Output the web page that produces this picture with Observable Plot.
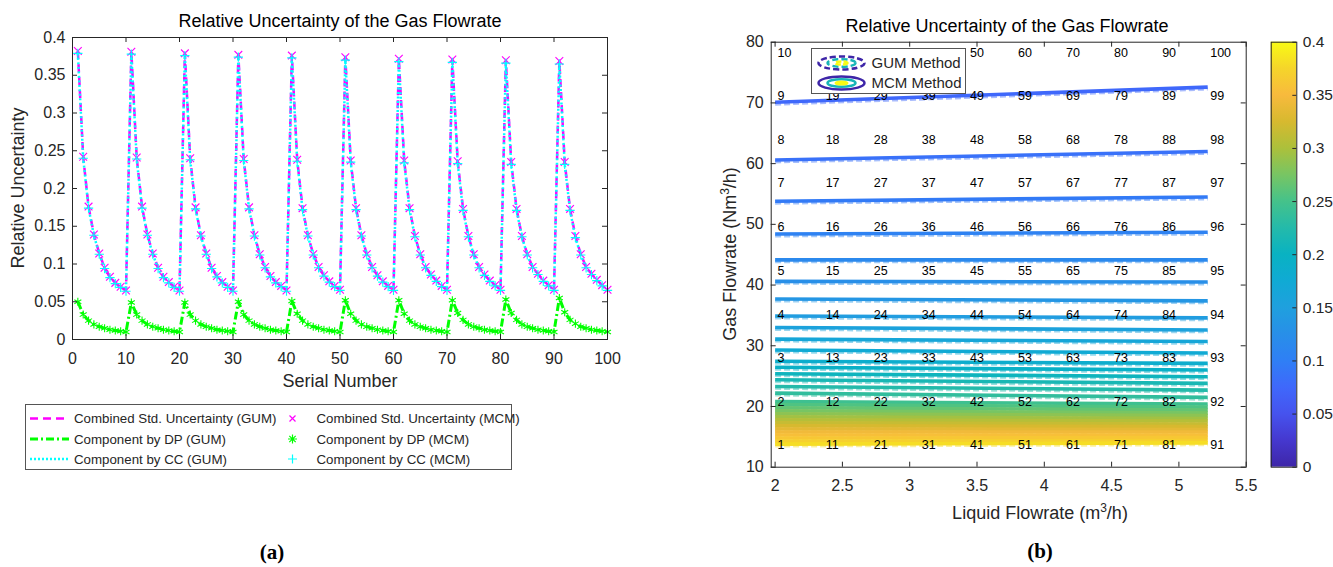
<!DOCTYPE html>
<html><head><meta charset="utf-8">
<script src="https://cdn.jsdelivr.net/npm/d3@7"></script>
<script src="https://cdn.jsdelivr.net/npm/@observablehq/plot@0.6"></script>
<style>
body{margin:0;background:#fff;width:1333px;height:567px;position:relative;overflow:hidden;font-family:"Liberation Sans",Arial,sans-serif;color:#000}
.abs{position:absolute}
.t{position:absolute;transform:translate(-50%,-50%);white-space:nowrap;font-size:18px;color:#262626}
.ttl{color:#000}
.rot{transform:translate(-50%,-50%) rotate(-90deg)}
.cap{font-family:"Liberation Serif","Times New Roman",serif;font-weight:bold;font-size:21px;color:#000}
sup{font-size:12px;vertical-align:7px;line-height:0}
</style></head><body>
<div id="chartA" class="abs" style="left:0;top:0"></div>
<div id="chartB" class="abs" style="left:700px;top:0"></div>
<div id="chartC" class="abs" style="left:1250px;top:0"></div>

<div class="t ttl" style="left:340px;top:21px">Relative Uncertainty of the Gas Flowrate</div>
<div class="t rot" style="left:18px;top:188px">Relative Uncertainty</div>
<div class="t" style="left:340px;top:381px">Serial Number</div>
<div class="t cap" style="left:272px;top:552px">(a)</div>

<div class="t ttl" style="left:1007px;top:26px">Relative Uncertainty of the Gas Flowrate</div>
<div class="t rot" style="left:730px;top:254px">Gas Flowrate (Nm<sup>3</sup>/h)</div>
<div class="t" style="left:1040px;top:513px">Liquid Flowrate (m<sup>3</sup>/h)</div>
<div class="t cap" style="left:1040px;top:551px">(b)</div>

<svg class="abs" style="left:25px;top:404px" width="500" height="67" font-family="Liberation Sans, Arial, sans-serif" font-size="13.3">
  <rect x="0.5" y="0.5" width="486" height="65" fill="#fff" stroke="#555"/>
  <line x1="5" x2="44" y1="14.5" y2="14.5" stroke="#ff00ff" stroke-width="2.5" stroke-dasharray="8,5"/>
  <line x1="5" x2="44" y1="35" y2="35" stroke="#00ff00" stroke-width="3" stroke-dasharray="8,3,2,3"/>
  <line x1="5" x2="44" y1="55" y2="55" stroke="#00ffff" stroke-width="2.5" stroke-dasharray="2,2"/>
  <text x="49" y="19" fill="#262626">Combined Std. Uncertainty (GUM)</text>
  <text x="49" y="39.5" fill="#262626">Component by DP (GUM)</text>
  <text x="49" y="59.5" fill="#262626">Component by CC (GUM)</text>
  <path d="M264.5,11.5l6,6M270.5,11.5l-6,6" stroke="#ff00ff" stroke-width="1.2"/>
  <path d="M267.5,30.5v9M263,35h9M264.3,31.8l6.4,6.4M270.7,31.8l-6.4,6.4" stroke="#00ff00" stroke-width="1.2"/>
  <path d="M267.5,50.5v9M263,55h9" stroke="#00ffff" stroke-width="1.2"/>
  <text x="291.5" y="19" fill="#262626">Combined Std. Uncertainty (MCM)</text>
  <text x="291.5" y="39.5" fill="#262626">Component by DP (MCM)</text>
  <text x="291.5" y="59.5" fill="#262626">Component by CC (MCM)</text>
</svg>

<svg class="abs" style="left:811px;top:48px" width="160" height="47" font-family="Liberation Sans, Arial, sans-serif" font-size="15">
  <rect x="0.5" y="0.5" width="154" height="45" fill="#fff" stroke="#555"/>
  <ellipse cx="30.5" cy="15" rx="23" ry="6.5" fill="none" stroke="#3e26a8" stroke-width="2.5" stroke-dasharray="6,3"/>
  <ellipse cx="30.5" cy="15" rx="14" ry="3.8" fill="none" stroke="#17b5b8" stroke-width="2.5" stroke-dasharray="6,3"/>
  <ellipse cx="30.5" cy="15" rx="6" ry="1.6" fill="none" stroke="#f9fb14" stroke-width="2.5" stroke-dasharray="5,2"/>
  <ellipse cx="30.5" cy="35" rx="23" ry="6.5" fill="none" stroke="#3e26a8" stroke-width="2.5"/>
  <ellipse cx="30.5" cy="35" rx="14" ry="3.8" fill="none" stroke="#17b5b8" stroke-width="2.5"/>
  <ellipse cx="30.5" cy="35" rx="6" ry="1.6" fill="#f9fb14" stroke="#f9fb14" stroke-width="2"/>
  <text x="60.5" y="20" fill="#262626">GUM Method</text>
  <text x="60.5" y="40" fill="#262626">MCM Method</text>
</svg>

<script>
// ---------- Chart (a): relative uncertainty by serial number ----------
const combinedGUM = [
  0.382,0.242,0.176,0.139,0.114,0.095,0.083,0.075,0.070,0.065,
  0.381,0.241,0.176,0.139,0.114,0.095,0.083,0.076,0.070,0.065,
  0.379,0.240,0.175,0.138,0.114,0.095,0.084,0.076,0.070,0.065,
  0.377,0.239,0.175,0.138,0.113,0.096,0.084,0.076,0.071,0.065,
  0.376,0.238,0.174,0.138,0.113,0.096,0.085,0.077,0.071,0.066,
  0.374,0.237,0.174,0.138,0.113,0.096,0.085,0.077,0.071,0.066,
  0.372,0.237,0.174,0.137,0.113,0.096,0.086,0.078,0.071,0.066,
  0.371,0.236,0.173,0.137,0.113,0.096,0.086,0.078,0.072,0.066,
  0.370,0.235,0.173,0.137,0.113,0.096,0.087,0.078,0.072,0.066,
  0.369,0.235,0.173,0.137,0.113,0.096,0.087,0.079,0.072,0.066
];
const dpGUM = [
  0.050,0.033,0.025,0.020,0.017,0.015,0.013,0.012,0.011,0.010,
  0.049,0.033,0.025,0.020,0.017,0.015,0.013,0.012,0.011,0.010,
  0.049,0.033,0.025,0.020,0.017,0.015,0.013,0.012,0.011,0.010,
  0.050,0.033,0.025,0.020,0.017,0.015,0.013,0.012,0.011,0.010,
  0.051,0.034,0.025,0.020,0.017,0.015,0.013,0.012,0.011,0.010,
  0.052,0.034,0.025,0.020,0.017,0.015,0.013,0.012,0.011,0.010,
  0.052,0.034,0.025,0.020,0.017,0.015,0.013,0.012,0.011,0.010,
  0.052,0.035,0.026,0.020,0.017,0.015,0.013,0.012,0.011,0.010,
  0.053,0.035,0.026,0.020,0.017,0.015,0.013,0.012,0.011,0.010,
  0.055,0.036,0.026,0.021,0.017,0.015,0.013,0.012,0.011,0.010
];
const ccGUM = [
  0.379,0.240,0.174,0.138,0.113,0.094,0.082,0.074,0.069,0.064,
  0.378,0.239,0.174,0.138,0.113,0.094,0.082,0.075,0.069,0.064,
  0.376,0.238,0.173,0.137,0.113,0.094,0.083,0.075,0.069,0.064,
  0.374,0.237,0.173,0.137,0.112,0.095,0.083,0.075,0.070,0.064,
  0.373,0.236,0.172,0.137,0.112,0.095,0.084,0.076,0.070,0.065,
  0.370,0.235,0.172,0.137,0.112,0.095,0.084,0.076,0.070,0.065,
  0.368,0.234,0.172,0.136,0.112,0.095,0.085,0.077,0.070,0.065,
  0.367,0.233,0.171,0.136,0.112,0.095,0.085,0.077,0.071,0.065,
  0.366,0.232,0.171,0.136,0.112,0.095,0.086,0.077,0.071,0.065,
  0.365,0.232,0.171,0.135,0.112,0.095,0.086,0.078,0.071,0.065
];
// MCM results coincide with GUM results at this scale
const combinedMCM = combinedGUM;
const dpMCM = dpGUM;
const ccMCM = ccGUM;
const xTicksA = [0,10,20,30,40,50,60,70,80,90,100];
const yTicksA = [0,0.05,0.1,0.15,0.2,0.25,0.3,0.35,0.4];

// ---------- Chart (b): contour of relative uncertainty ----------
const liquidFlow = [2.0,2.357,2.714,3.071,3.429,3.786,4.143,4.5,4.857,5.214];
const gasFlow = [13.6,20.8,27.95,35.1,42.3,49.5,56.8,63.9,71.1,78.25];
const contourLevels = [0.075,0.085,0.095,0.105,0.115,0.125,0.135,0.145,0.155,0.165,0.175,0.185,0.195,0.205,0.215,0.225,0.235,
  0.245,0.255,0.265,0.275,0.285,0.295,0.305,0.315,0.325,0.335,0.345,0.355,0.362,0.370,0.380];
const contourYStart = [70.1,60.6,53.8,48.4,44.15,40.6,37.7,34.9,33.0,31.1,29.3,27.45,26.45,25.4,24.4,23.3,22.2,
  20.8,20.3,19.8,19.3,18.8,18.3,17.8,17.3,16.8,16.3,15.8,15.3,14.8,14.3,13.8];
const contourYEnd = [72.6,62.0,54.5,48.7,44.15,40.5,37.4,34.6,32.6,30.7,28.8,27.1,26.0,24.9,23.8,22.7,21.5,
  20.4,19.9,19.4,18.9,18.5,18.0,17.6,17.1,16.7,16.2,15.8,15.3,14.9,14.4,14.0];
const xTicksB = [2,2.5,3,3.5,4,4.5,5,5.5];
const yTicksB = [10,20,30,40,50,60,70,80];
const cbTicks = [0,0.05,0.1,0.15,0.2,0.25,0.3,0.35,0.4];
const parula = ["#3e26a8","#4538cf","#4653ee","#3f68fb","#2f7ff5","#288fe8","#1fa0de","#10aad4","#09b2c2",
  "#24baaa","#45c28a","#78c563","#acc03b","#d7b92f","#f8ba3d","#f5d52a","#f9fb14"];
const parulaInterp = d3.piecewise(d3.interpolateRgb, parula);

const font = "Liberation Sans, Arial, sans-serif";
const axisStyle = {fontFamily: font, fontSize: "16px", color: "#262626", background: "transparent", overflow: "visible"};

// ---- Plot (a)
{
  const W = 640, H = 400, mL = 72, mR = 33, mT = 37, mB = 61;
  const pw = W - mL - mR, ph = H - mT - mB;
  const rows = combinedGUM.map((v, i) => ({
    s: i + 1, comb: v, dp: dpGUM[i], cc: ccGUM[i],
    combM: combinedMCM[i], dpM: dpMCM[i], ccM: ccMCM[i]
  }));
  const p = Plot.plot({
    width: W, height: H, marginLeft: mL, marginRight: mR, marginTop: mT, marginBottom: mB,
    style: axisStyle,
    x: {domain: [0, 100]}, y: {domain: [0, 0.4]},
    marks: [
      Plot.line(rows, {x: "s", y: "comb", stroke: "#ff00ff", strokeWidth: 2.5, strokeDasharray: "8,5", strokeLinecap: "butt"}),
      Plot.line(rows, {x: "s", y: "dp", stroke: "#00ff00", strokeWidth: 3, strokeDasharray: "8,3,2,3", strokeLinecap: "butt"}),
      Plot.line(rows, {x: "s", y: "cc", stroke: "#00ffff", strokeWidth: 2.5, strokeDasharray: "2,2.5", strokeLinecap: "butt"}),
      Plot.dot(rows, {x: "s", y: "combM", symbol: "times", r: 3.6, stroke: "#ff00ff", strokeWidth: 1.1}),
      Plot.dot(rows, {x: "s", y: "dpM", symbol: "asterisk", r: 3.8, stroke: "#00ff00", strokeWidth: 1.1}),
      Plot.dot(rows, {x: "s", y: "ccM", symbol: "plus", r: 3.1, stroke: "#00ffff", strokeWidth: 1.1}),
      Plot.ruleX(xTicksA, {insetTop: ph - 5, stroke: "#262626"}),
      Plot.ruleX(xTicksA, {insetBottom: ph - 5, stroke: "#262626"}),
      Plot.ruleY(yTicksA, {insetRight: pw - 5, stroke: "#262626"}),
      Plot.ruleY(yTicksA, {insetLeft: pw - 5, stroke: "#262626"}),
      Plot.axisX({ticks: xTicksA, tickSize: 0, tickPadding: 13, label: null}),
      Plot.axisY({ticks: yTicksA, tickSize: 0, tickPadding: 7, label: null, tickFormat: d => String(d)}),
      Plot.frame({stroke: "#262626"})
    ]
  });
  document.getElementById("chartA").appendChild(p);
}

// ---- Plot (b)
{
  const W = 560, H = 500, mL = 70.7, mR = 14.3, mT = 41.7, mB = 33.3;
  const pw = W - mL - mR, ph = H - mT - mB;
  const lines = contourLevels.flatMap((lv, i) => [
    {level: lv, x: liquidFlow[0], y: contourYStart[i]},
    {level: lv, x: liquidFlow[liquidFlow.length - 1], y: contourYEnd[i]}
  ]);
  const labels = d3.cross(d3.range(liquidFlow.length), d3.range(gasFlow.length))
    .map(([c, r]) => ({x: liquidFlow[c], y: gasFlow[r], label: String(c * gasFlow.length + r + 1)}));
  const p = Plot.plot({
    width: W, height: H, marginLeft: mL, marginRight: mR, marginTop: mT, marginBottom: mB,
    style: axisStyle,
    x: {domain: [1.971, 5.5]}, y: {domain: [10, 80]},
    color: {type: "linear", domain: [0, 0.4], interpolate: parulaInterp},
    marks: [
      Plot.line(lines, {x: "x", y: "y", z: "level", stroke: "level", strokeWidth: 3.2, strokeDasharray: "6,3", strokeOpacity: 0.45, dy: 1.8, strokeLinecap: "butt"}),
      Plot.line(lines, {x: "x", y: "y", z: "level", stroke: "level", strokeWidth: 3.6, strokeLinecap: "butt"}),
      Plot.text(labels, {x: "x", y: "y", text: "label", textAnchor: "start", dx: 2.5, fontSize: 12.5, fill: "#000"}),
      Plot.ruleX(xTicksB, {insetTop: ph - 5, stroke: "#262626"}),
      Plot.ruleX(xTicksB, {insetBottom: ph - 5, stroke: "#262626"}),
      Plot.ruleY(yTicksB, {insetRight: pw - 5, stroke: "#262626"}),
      Plot.ruleY(yTicksB, {insetLeft: pw - 5, stroke: "#262626"}),
      Plot.axisX({ticks: xTicksB, tickSize: 0, tickPadding: 12, label: null, tickFormat: d => String(d)}),
      Plot.axisY({ticks: yTicksB, tickSize: 0, tickPadding: 7.5, label: null}),
      Plot.frame({stroke: "#262626"})
    ]
  });
  document.getElementById("chartB").appendChild(p);
}

// ---- Colorbar
{
  const W = 83, H = 500, mL = 20.7, mR = 36.7, mT = 41.7, mB = 33.3;
  const pw = W - mL - mR, ph = H - mT - mB;
  const p = Plot.plot({
    width: W, height: H, marginLeft: mL, marginRight: mR, marginTop: mT, marginBottom: mB,
    style: {...axisStyle, fontSize: "15.5px"},
    y: {domain: [0, 0.4]},
    marks: [
      Plot.ruleY(cbTicks, {insetLeft: pw - 4, stroke: "#262626"}),
      Plot.axisY({ticks: cbTicks, anchor: "right", tickSize: 0, tickPadding: 6, label: null, tickFormat: d => String(d)}),
      Plot.frame({stroke: "#262626"})
    ]
  });
  const ns = "http://www.w3.org/2000/svg";
  const defs = document.createElementNS(ns, "defs");
  const grad = document.createElementNS(ns, "linearGradient");
  grad.setAttribute("id", "parulaGrad");
  grad.setAttribute("x1", "0"); grad.setAttribute("y1", "1");
  grad.setAttribute("x2", "0"); grad.setAttribute("y2", "0");
  parula.forEach((c, i) => {
    const st = document.createElementNS(ns, "stop");
    st.setAttribute("offset", i / (parula.length - 1));
    st.setAttribute("stop-color", c);
    grad.appendChild(st);
  });
  defs.appendChild(grad);
  const rect = document.createElementNS(ns, "rect");
  rect.setAttribute("x", mL); rect.setAttribute("y", mT);
  rect.setAttribute("width", pw); rect.setAttribute("height", ph);
  rect.setAttribute("fill", "url(#parulaGrad)");
  const st = p.querySelector("style");
  if (st) { st.after(defs); defs.after(rect); } else { p.prepend(rect); p.prepend(defs); }
  document.getElementById("chartC").appendChild(p);
}
</script>
</body></html>
